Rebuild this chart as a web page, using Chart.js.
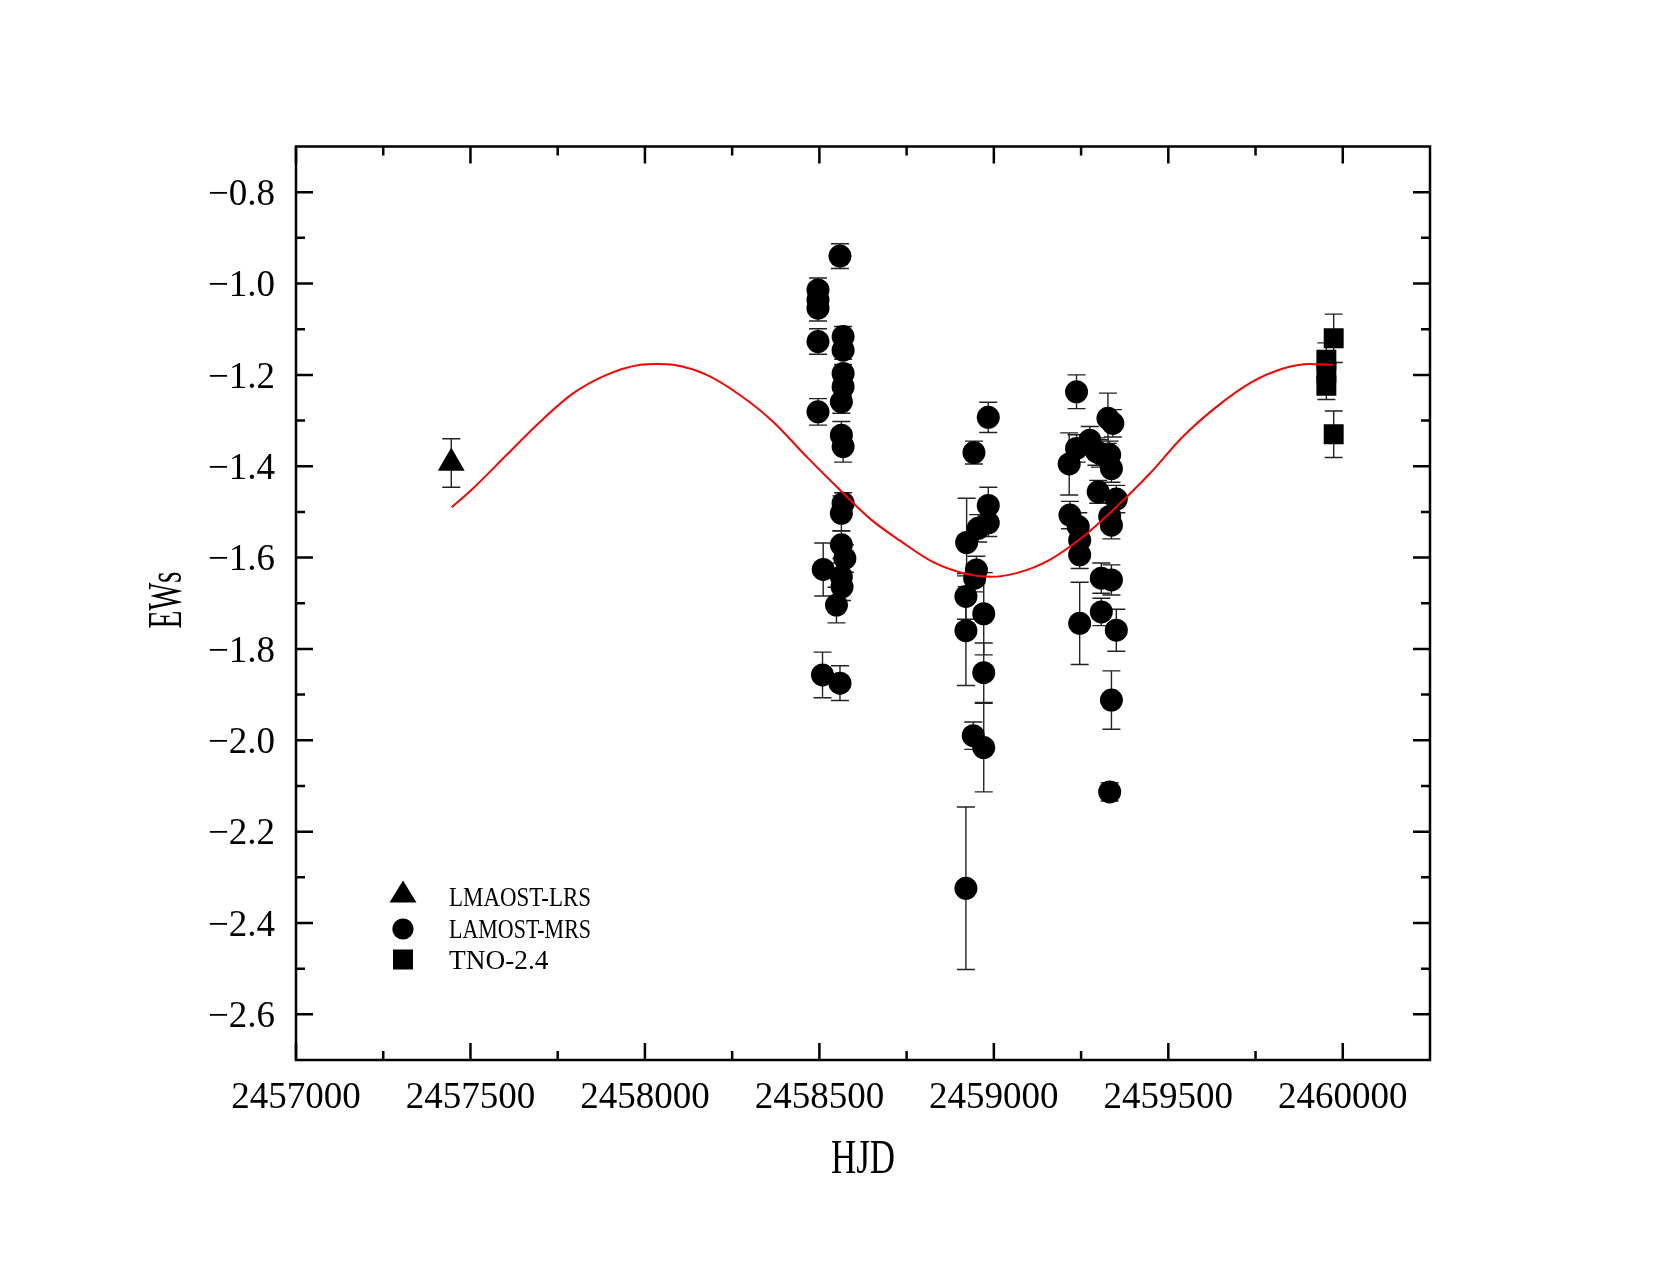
<!DOCTYPE html>
<html>
<head>
<meta charset="utf-8">
<title>EWs vs HJD</title>
<script src="https://cdn.jsdelivr.net/npm/chart.js@4.4.1/dist/chart.umd.min.js"></script>
<style>
  html, body { margin: 0; padding: 0; background: #fff; }
  canvas { display: block; }
</style>
</head>
<body>
<canvas id="EwCanvas" width="1661" height="1271"></canvas>
<script>
// values

// LMAOST-LRS (triangle)
const lrsHjd = [2457445];
const lrsEw = [-1.393];
const lrsErr = [0.053];

// LAMOST-MRS (circles)
const mrsHjd = [
    2458559, 2458496, 2458496, 2458496, 2458496, 2458568, 2458568, 2458568, 2458568, 2458563,
    2458496, 2458563, 2458568, 2458568, 2458563, 2458563, 2458573, 2458511, 2458563, 2458565,
    2458549, 2458509, 2458559,
    2458984, 2458943, 2458984, 2458984, 2458955, 2458922, 2458950, 2458945, 2458920, 2458971,
    2458920, 2458971, 2458941, 2458971, 2458920,
    2459237, 2459327, 2459341, 2459275, 2459237, 2459304, 2459332, 2459216, 2459337, 2459299,
    2459351, 2459218, 2459332, 2459242, 2459337, 2459246, 2459246, 2459308, 2459337, 2459308,
    2459246, 2459351, 2459337, 2459332, 2459294
];
const mrsEw = [
    -0.940, -1.014, -1.036, -1.054, -1.127, -1.116, -1.146, -1.197, -1.226, -1.259,
    -1.281, -1.332, -1.357, -1.481, -1.503, -1.572, -1.602, -1.626, -1.642, -1.664,
    -1.704, -1.857, -1.875,
    -1.293, -1.370, -1.486, -1.524, -1.536, -1.567, -1.627, -1.645, -1.685, -1.723,
    -1.760, -1.852, -1.990, -2.016, -2.324,
    -1.237, -1.295, -1.306, -1.343, -1.361, -1.372, -1.375, -1.395, -1.405, -1.456,
    -1.472, -1.507, -1.510, -1.532, -1.529, -1.562, -1.594, -1.645, -1.649, -1.719,
    -1.744, -1.759, -1.912, -2.113, -1.368
];
const mrsErr = [
    0.027, 0.026, 0.025, 0.028, 0.028, 0.022, 0.020, 0.020, 0.020, 0.025,
    0.029, 0.030, 0.034, 0.023, 0.038, 0.030, 0.030, 0.058, 0.030, 0.030,
    0.039, 0.050, 0.038,
    0.033, 0.025, 0.040, 0.030, 0.030, 0.097, 0.030, 0.030, 0.050, 0.090,
    0.120, 0.065, 0.030, 0.097, 0.178,
    0.037, 0.055, 0.030, 0.030, 0.030, 0.030, 0.030, 0.068, 0.030, 0.025,
    0.030, 0.030, 0.030, 0.030, 0.030, 0.030, 0.030, 0.033, 0.033, 0.030,
    0.090, 0.046, 0.064, 0.020, 0.030
];

// TNO-2.4 (squares)
const tnoHjd = [2459974, 2459953, 2459953, 2459953, 2459974];
const tnoEw = [-1.120, -1.167, -1.195, -1.224, -1.330];
const tnoErr = [0.053, 0.037, 0.030, 0.030, 0.051];

// red fitted curve, sampled off the figure
const fitHjd = [
    2457446, 2457508, 2457604, 2457699, 2457795, 2457890, 2457986, 2458034, 2458081, 2458177,
    2458272, 2458368, 2458463, 2458559, 2458650, 2458731, 2458826, 2458922, 2458989, 2459065,
    2459160, 2459256, 2459351, 2459447, 2459542, 2459638, 2459734, 2459829, 2459905, 2459972
];
const fitEw = [
    -1.490, -1.448, -1.375, -1.303, -1.240, -1.200, -1.178, -1.176, -1.178, -1.200,
    -1.244, -1.303, -1.379, -1.452, -1.518, -1.563, -1.610, -1.636, -1.642, -1.634,
    -1.605, -1.554, -1.489, -1.416, -1.335, -1.270, -1.218, -1.186, -1.176, -1.178
];

// axis ticks
const xMajorTicks = [2457000, 2457500, 2458000, 2458500, 2459000, 2459500, 2460000];
const xMinorTicks = [2457250, 2457750, 2458250, 2458750, 2459250, 2459750];
const yMajorTicks = [-2.6, -2.4, -2.2, -2.0, -1.8, -1.6, -1.4, -1.2, -1.0, -0.8];
const yMinorTicks = [-2.5, -2.3, -2.1, -1.9, -1.7, -1.5, -1.3, -1.1, -0.9];

const legendLabels = ["LMAOST-LRS", "LAMOST-MRS", "TNO-2.4"];
const xTitle = "HJD";
const yTitle = "EWs";

const SERIF = "'Liberation Serif', 'DejaVu Serif', serif";

//---------------------- HELPERS

function toPoints(xs, ys) {
    return xs.map((x, i) => ({ x: x, y: ys[i] }));
}

function formatY(v) {
    return v.toFixed(1).replace('-', '\u2212');
}

// squeezed text, the original font is a narrow CJK serif
function drawSqueezed(ctx, text, x, y, size, targetWidth, rotate) {
    ctx.save();
    ctx.font = `${size}px ${SERIF}`;
    const w = ctx.measureText(text).width;
    const sx = targetWidth ? targetWidth / w : 1;
    ctx.translate(x, y);
    if (rotate) ctx.rotate(-Math.PI / 2);
    ctx.scale(sx, 1);
    ctx.fillStyle = '#000';
    ctx.textBaseline = 'alphabetic';
    ctx.fillText(text, 0, 0);
    ctx.restore();
}

//---------------------- PLUGINS

const errorBars = {
    id: 'errorBars',
    beforeDatasetsDraw(chart) {
        const ctx = chart.ctx;
        const xs = chart.scales.x;
        const ys = chart.scales.y;
        ctx.save();
        ctx.strokeStyle = '#222';
        ctx.lineWidth = 1.4;
        chart.data.datasets.forEach(ds => {
            if (!ds.errors) return;
            ds.data.forEach((p, i) => {
                const px = xs.getPixelForValue(p.x);
                const top = ys.getPixelForValue(p.y + ds.errors[i]);
                const bot = ys.getPixelForValue(p.y - ds.errors[i]);
                ctx.beginPath();
                ctx.moveTo(px, top); ctx.lineTo(px, bot);
                ctx.moveTo(px - 9, top); ctx.lineTo(px + 9, top);
                ctx.moveTo(px - 9, bot); ctx.lineTo(px + 9, bot);
                ctx.stroke();
            });
        });
        ctx.restore();
    }
};

const frame = {
    id: 'frame',
    afterDraw(chart) {
        const ctx = chart.ctx;
        const a = chart.chartArea;
        const xs = chart.scales.x;
        const ys = chart.scales.y;
        ctx.save();
        ctx.strokeStyle = '#000';
        ctx.lineWidth = 2.5;
        ctx.strokeRect(a.left, a.top, a.right - a.left, a.bottom - a.top);
        ctx.beginPath();
        const xTick = (v, len) => {
            const px = xs.getPixelForValue(v);
            ctx.moveTo(px, a.bottom); ctx.lineTo(px, a.bottom - len);
            ctx.moveTo(px, a.top); ctx.lineTo(px, a.top + len);
        };
        const yTick = (v, len) => {
            const py = ys.getPixelForValue(v);
            ctx.moveTo(a.left, py); ctx.lineTo(a.left + len, py);
            ctx.moveTo(a.right, py); ctx.lineTo(a.right - len, py);
        };
        xMajorTicks.forEach(v => xTick(v, 17));
        xMinorTicks.forEach(v => xTick(v, 9));
        yMajorTicks.forEach(v => yTick(v, 17));
        yMinorTicks.forEach(v => yTick(v, 9));
        ctx.stroke();
        ctx.restore();
    }
};

const titlesAndLegend = {
    id: 'titlesAndLegend',
    afterDraw(chart) {
        const ctx = chart.ctx;
        const a = chart.chartArea;

        ctx.save();
        ctx.textAlign = 'center';
        drawSqueezed(ctx, xTitle, (a.left + a.right) / 2, 1173, 48, 64, false);
        drawSqueezed(ctx, yTitle, 181, 600, 48, 57, true);
        ctx.restore();

        // legend
        const mx = 403;
        ctx.save();
        ctx.fillStyle = '#000';
        ctx.beginPath();
        ctx.moveTo(mx, 880.5); ctx.lineTo(mx + 13.5, 902.5); ctx.lineTo(mx - 13.5, 902.5);
        ctx.closePath();
        ctx.fill();
        ctx.beginPath();
        ctx.arc(mx, 929, 10.6, 0, Math.PI * 2);
        ctx.fill();
        ctx.fillRect(mx - 10, 949.5, 20, 20);
        ctx.restore();

        ctx.save();
        ctx.textAlign = 'left';
        const baselines = [906, 938, 969];
        legendLabels.forEach((t, i) => {
            drawSqueezed(ctx, t, 449, baselines[i], 28, t.length * 14.2, false);
        });
        ctx.restore();
    }
};

//---------------------- CHART

const tickFont = { family: SERIF, size: 37 };

const myChartEw = new Chart(document.getElementById("EwCanvas").getContext("2d"), {
    type: 'scatter',
    data: {
        datasets: [
            {
                label: 'fit',
                type: 'line',
                data: toPoints(fitHjd, fitEw),
                borderColor: '#ff0000',
                borderWidth: 2,
                pointRadius: 0,
                cubicInterpolationMode: 'monotone',
                fill: false
            },
            {
                label: legendLabels[0],
                data: toPoints(lrsHjd, lrsEw),
                errors: lrsErr,
                pointStyle: 'triangle',
                pointRadius: 15.5,
                backgroundColor: '#000',
                borderWidth: 0
            },
            {
                label: legendLabels[1],
                data: toPoints(mrsHjd, mrsEw),
                errors: mrsErr,
                pointStyle: 'circle',
                pointRadius: 11.5,
                backgroundColor: '#000',
                borderWidth: 0
            },
            {
                label: legendLabels[2],
                data: toPoints(tnoHjd, tnoEw),
                errors: tnoErr,
                pointStyle: 'rect',
                pointRadius: 14.1,
                backgroundColor: '#000',
                borderWidth: 0
            }
        ]
    },
    options: {
        responsive: false,
        animation: false,
        devicePixelRatio: 1,
        layout: { padding: { left: 0, top: 146.5, right: 231, bottom: 0 } },
        plugins: {
            legend: { display: false },
            tooltip: { enabled: false }
        },
        scales: {
            x: {
                type: 'linear',
                min: 2457000,
                max: 2460250,
                afterBuildTicks: s => { s.ticks = xMajorTicks.map(v => ({ value: v })); },
                afterFit: s => { s.height = 211; },
                grid: { display: false, drawTicks: false },
                border: { display: false },
                ticks: {
                    font: tickFont,
                    color: '#000',
                    padding: 16,
                    autoSkip: false,
                    maxRotation: 0,
                    callback: v => String(v)
                }
            },
            y: {
                type: 'linear',
                min: -2.7,
                max: -0.7,
                afterBuildTicks: s => { s.ticks = yMajorTicks.map(v => ({ value: v })); },
                afterFit: s => { s.width = 296; },
                grid: { display: false, drawTicks: false },
                border: { display: false },
                ticks: {
                    font: tickFont,
                    color: '#000',
                    padding: 21,
                    labelOffset: 3,
                    callback: v => formatY(v)
                }
            }
        }
    },
    plugins: [errorBars, frame, titlesAndLegend]
});
</script>
</body>
</html>
